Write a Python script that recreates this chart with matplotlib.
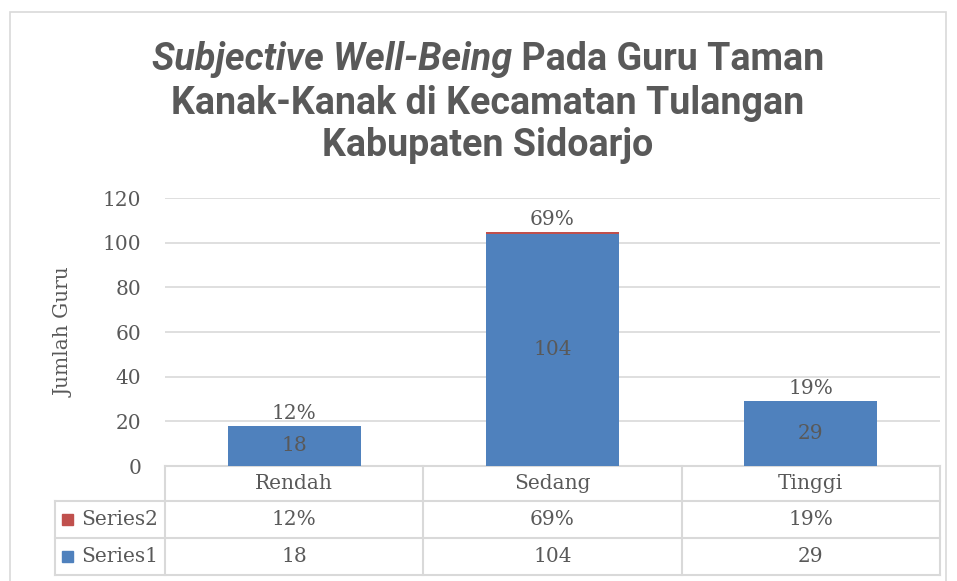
import matplotlib
matplotlib.use("Agg")
import matplotlib.pyplot as plt
from matplotlib.patches import Rectangle
from matplotlib.lines import Line2D
import matplotlib.transforms as mtransforms

# data
categories = ["Rendah", "Sedang", "Tinggi"]
series1 = [18, 104, 29]
series2 = [0.12, 0.69, 0.19]
series_names = ["Series1", "Series2"]
yticks = [0, 20, 40, 60, 80, 100, 120]

blue = "#4F81BD"
red = "#C0504D"
grey_txt = "#595959"
grid_c = "#D9D9D9"

W, H = 957, 581
fig = plt.figure(figsize=(W / 100, H / 100), dpi=100)

def px(x, y):
    # pixel coords (top-left origin) -> figure fraction
    return x / W, 1 - y / H

serif = ["DejaVu Serif"]
fs = 14.5

# outer chart border
fig.patches.append(Rectangle(px(10, 600), (946 - 10) / W, (600 - 12) / H,
                             transform=fig.transFigure, fill=False,
                             edgecolor=grid_c, lw=1.2))

ax_l, ax_r, ax_t, ax_b = 165, 940, 198, 466
ax = fig.add_axes([ax_l / W, 1 - ax_b / H, (ax_r - ax_l) / W, (ax_b - ax_t) / H])

x = range(len(categories))
ax.bar(x, series1, width=0.515, color=blue, zorder=3)
ax.bar(x, series2, width=0.515, bottom=series1, color=red, zorder=3)

ax.set_xlim(-0.5, 2.5)
ax.set_ylim(0, 120)
ax.set_yticks(yticks)
ax.set_yticklabels([str(t) for t in yticks], fontfamily=serif, fontsize=fs, color=grey_txt)
ax.set_xticks([])
ax.tick_params(axis="y", length=0, pad=17)
ax.grid(axis="y", color=grid_c, lw=1.2, zorder=0)
for s in ["top", "right", "left"]:
    ax.spines[s].set_visible(False)
ax.spines["bottom"].set_color(grid_c)
ax.spines["bottom"].set_linewidth(1.5)
ax.set_ylabel("Jumlah Guru", fontfamily=serif, fontsize=fs, color=grey_txt, labelpad=21)

# data labels
for i in x:
    ax.text(i, series1[i] / 2, str(series1[i]), ha="center", va="center",
            fontfamily=serif, fontsize=fs, color=grey_txt, zorder=4)
    ax.annotate(f"{round(series2[i] * 100)}%", (i, series1[i] + series2[i]),
                xytext=(0, 2), textcoords="offset points", ha="center", va="bottom",
                fontfamily=serif, fontsize=fs, color=grey_txt)

# data table under the axis
tr = mtransforms.blended_transform_factory(ax.transData, fig.transFigure)
rows_y = [466, 501, 538, 575]
bounds = [-0.5, 0.5, 1.5, 2.5]
leg_x = -0.5 - (165 - 55) / ((940 - 165) / 3)

def fy(y):
    return 1 - y / H

for y in rows_y[1:]:
    fig.add_artist(Line2D([leg_x, 2.5], [fy(y), fy(y)], transform=tr, color=grid_c, lw=1.5))
for b in bounds:
    fig.add_artist(Line2D([b, b], [fy(466), fy(575)], transform=tr, color=grid_c, lw=1.5))
fig.add_artist(Line2D([leg_x, leg_x], [fy(501), fy(575)], transform=tr, color=grid_c, lw=1.5))

for i, c in enumerate(categories):
    fig.text(i, fy((466 + 501) / 2), c, transform=tr, ha="center", va="center",
             fontfamily=serif, fontsize=fs, color=grey_txt)
    fig.text(i, fy((501 + 538) / 2), f"{round(series2[i] * 100)}%", transform=tr,
             ha="center", va="center", fontfamily=serif, fontsize=fs, color=grey_txt)
    fig.text(i, fy((538 + 575) / 2), str(series1[i]), transform=tr,
             ha="center", va="center", fontfamily=serif, fontsize=fs, color=grey_txt)

for name, col, (y0, y1) in [(series_names[1], red, (501, 538)), (series_names[0], blue, (538, 575))]:
    yc = (y0 + y1) / 2
    fig.patches.append(Rectangle(px(62, yc + 5), 11 / W, 11 / H, transform=fig.transFigure,
                                 color=col))
    fig.text(*px(81, yc), name, ha="left", va="center", fontfamily=serif,
             fontsize=fs, color=grey_txt)

# title: first part italic, size fitted so line 1 is ~673 px wide
tfam = ["Roboto", "DejaVu Sans"]
cx = 488
renderer = fig.canvas.get_renderer()
t_it = fig.text(0, 0, "Subjective Well-Being", fontfamily=tfam, fontsize=26,
                fontweight="bold", fontstyle="italic", color=grey_txt, va="center")
t_rest = fig.text(0, 0, " Pada Guru Taman", fontfamily=tfam, fontsize=26,
                  fontweight="bold", color=grey_txt, va="center")
wtot = t_it.get_window_extent(renderer).width + t_rest.get_window_extent(renderer).width
tsize = 26 * 673 / wtot
t_it.set_fontsize(tsize)
t_rest.set_fontsize(tsize)
w1 = t_it.get_window_extent(renderer).width
w2 = t_rest.get_window_extent(renderer).width
x0 = cx - (w1 + w2) / 2
t_it.set_position(px(x0, 60))
t_rest.set_position(px(x0 + w1, 60))
fig.text(*px(cx, 103), "Kanak-Kanak di Kecamatan Tulangan", fontfamily=tfam, fontsize=tsize,
         fontweight="bold", color=grey_txt, ha="center", va="center")
fig.text(*px(cx, 146), "Kabupaten Sidoarjo", fontfamily=tfam, fontsize=tsize,
         fontweight="bold", color=grey_txt, ha="center", va="center")

fig.savefig("out.png", dpi=100)
